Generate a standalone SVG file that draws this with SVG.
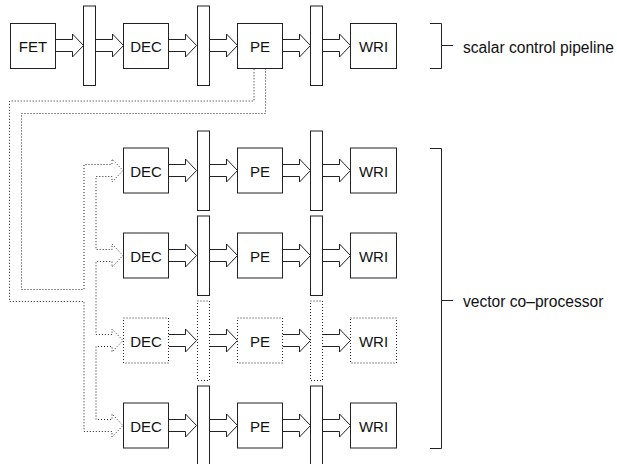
<svg xmlns="http://www.w3.org/2000/svg" width="617" height="464" viewBox="0 0 617 464">
<style>
.box{fill:#fff;stroke:#222;stroke-width:1}
.dbox{fill:#fff;stroke:#222;stroke-width:1;stroke-dasharray:1 2}
.lat{fill:#fff;stroke:#222;stroke-width:1}
.dlat{fill:#fff;stroke:#222;stroke-width:1;stroke-dasharray:1 2}
.arr{fill:#fff;stroke:#222;stroke-width:1}
.dot{fill:none;stroke:#222;stroke-width:1;stroke-dasharray:1 2}
.br{fill:none;stroke:#222;stroke-width:1}
.lbl{font-family:"Liberation Sans",Arial,sans-serif;font-size:15px;fill:#111;text-anchor:middle}
.side{font-family:"Liberation Sans",Arial,sans-serif;font-size:15.6px;fill:#111}
</style>
<defs>
<!-- arrow of length 28 from x=0, centered at y=0 -->
<path id="a" d="M0,-6 H17 V-11.5 L28,0 L17,11.5 V6 H0"/>
</defs>

<g id="connectors">
<!-- row 0 -->
<use href="#a" class="arr" x="55.5" y="45.5"/>
<use href="#a" class="arr" x="95.5" y="45.5"/>
<use href="#a" class="arr" x="168.5" y="45.5"/>
<use href="#a" class="arr" x="209.5" y="45.5"/>
<use href="#a" class="arr" x="282.5" y="45.5"/>
<use href="#a" class="arr" x="322.5" y="45.5"/>
<!-- row 1 -->
<use href="#a" class="arr" x="168.5" y="170.5"/>
<use href="#a" class="arr" x="209.5" y="170.5"/>
<use href="#a" class="arr" x="282.5" y="170.5"/>
<use href="#a" class="arr" x="322.5" y="170.5"/>
<!-- row 2 -->
<use href="#a" class="arr" x="168.5" y="255.5"/>
<use href="#a" class="arr" x="209.5" y="255.5"/>
<use href="#a" class="arr" x="282.5" y="255.5"/>
<use href="#a" class="arr" x="322.5" y="255.5"/>
<!-- row 3 -->
<use href="#a" class="arr" x="168.5" y="340.5"/>
<use href="#a" class="arr" x="209.5" y="340.5"/>
<use href="#a" class="arr" x="282.5" y="340.5"/>
<use href="#a" class="arr" x="322.5" y="340.5"/>
<!-- row 4 -->
<use href="#a" class="arr" x="168.5" y="425.5"/>
<use href="#a" class="arr" x="209.5" y="425.5"/>
<use href="#a" class="arr" x="282.5" y="425.5"/>
<use href="#a" class="arr" x="322.5" y="425.5"/>
<!-- dotted broadcast arrow from PE to vector DECs -->
<path class="dot" d="M265.5,68.5 V113.5 H21.5 V289.5 H84 V164.5 H112 V159 L123,170.5 L112,182 V176.5 H96 V249.5 H112 V244 L123,255.5 L112,267 V261.5 H96 V334.5 H112 V329 L123,340.5 L112,352 V346.5 H96 V419.5 H112 V414 L123,425.5 L112,437 V431.5 H84 V301.5 H9.5 V101 H254 V68.5"/>
</g>

<g id="FET"><rect class="box" x="10.5" y="23.5" width="45" height="45"/><text class="lbl" x="33" y="51.5">FET</text></g>
<g id="L0a"><rect class="lat" x="83.5" y="6" width="12" height="79.5"/></g>
<g id="DEC0"><rect class="box" x="123.5" y="23.5" width="45" height="45"/><text class="lbl" x="146" y="51.5">DEC</text></g>
<g id="L0b"><rect class="lat" x="197.5" y="6" width="12" height="79.5"/></g>
<g id="PE0"><rect class="box" x="237.5" y="23.5" width="45" height="45"/><text class="lbl" x="260" y="51.5">PE</text></g>
<g id="L0c"><rect class="lat" x="310.5" y="6" width="12" height="79.5"/></g>
<g id="WRI0"><rect class="box" x="350.5" y="23.5" width="46" height="45"/><text class="lbl" x="373.5" y="51.5">WRI</text></g>

<g id="DEC1"><rect class="box" x="123.5" y="148" width="45" height="45"/><text class="lbl" x="146" y="176.5">DEC</text></g>
<g id="L1a"><rect class="lat" x="197.5" y="131" width="12" height="79.5"/></g>
<g id="PE1"><rect class="box" x="237.5" y="148" width="45" height="45"/><text class="lbl" x="260" y="176.5">PE</text></g>
<g id="L1b"><rect class="lat" x="310.5" y="131" width="12" height="79.5"/></g>
<g id="WRI1"><rect class="box" x="350.5" y="148" width="46" height="45"/><text class="lbl" x="373.5" y="176.5">WRI</text></g>

<g id="DEC2"><rect class="box" x="123.5" y="233" width="45" height="45"/><text class="lbl" x="146" y="261.5">DEC</text></g>
<g id="L2a"><rect class="lat" x="197.5" y="216" width="12" height="79.5"/></g>
<g id="PE2"><rect class="box" x="237.5" y="233" width="45" height="45"/><text class="lbl" x="260" y="261.5">PE</text></g>
<g id="L2b"><rect class="lat" x="310.5" y="216" width="12" height="79.5"/></g>
<g id="WRI2"><rect class="box" x="350.5" y="233" width="46" height="45"/><text class="lbl" x="373.5" y="261.5">WRI</text></g>

<g id="DEC3"><rect class="dbox" x="123.5" y="318" width="45" height="45"/><text class="lbl" x="146" y="346.5">DEC</text></g>
<g id="L3a"><rect class="dlat" x="197.5" y="301" width="12" height="79.5"/></g>
<g id="PE3"><rect class="dbox" x="237.5" y="318" width="45" height="45"/><text class="lbl" x="260" y="346.5">PE</text></g>
<g id="L3b"><rect class="dlat" x="310.5" y="301" width="12" height="79.5"/></g>
<g id="WRI3"><rect class="dbox" x="350.5" y="318" width="46" height="45"/><text class="lbl" x="373.5" y="346.5">WRI</text></g>

<g id="DEC4"><rect class="box" x="123.5" y="403" width="45" height="45"/><text class="lbl" x="146" y="431.5">DEC</text></g>
<g id="L4a"><rect class="lat" x="197.5" y="386" width="12" height="79.5"/></g>
<g id="PE4"><rect class="box" x="237.5" y="403" width="45" height="45"/><text class="lbl" x="260" y="431.5">PE</text></g>
<g id="L4b"><rect class="lat" x="310.5" y="386" width="12" height="79.5"/></g>
<g id="WRI4"><rect class="box" x="350.5" y="403" width="46" height="45"/><text class="lbl" x="373.5" y="431.5">WRI</text></g>

<g id="scalar-label">
<path class="br" d="M430,23.5 H441.5 V68.5 H430 M441.5,45.5 H453"/>
<text class="side" x="463" y="52.5">scalar control pipeline</text>
</g>
<g id="vector-label">
<path class="br" d="M430,148.5 H441.5 V448.5 H430 M441.5,300.5 H453"/>
<text class="side" x="463" y="306.5">vector co–processor</text>
</g>
</svg>
